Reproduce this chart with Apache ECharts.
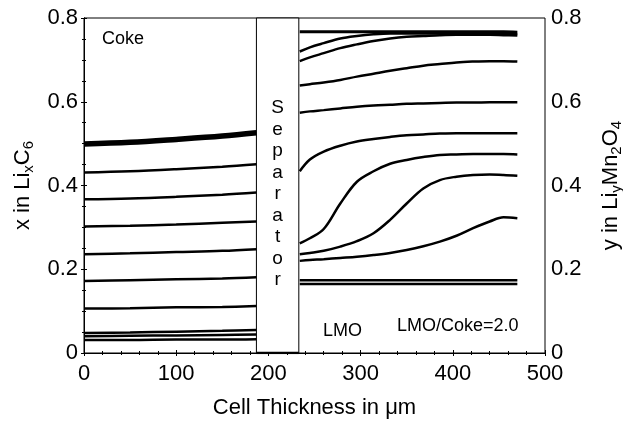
<!DOCTYPE html>
<html>
<head>
<meta charset="utf-8">
<script src="https://cdn.jsdelivr.net/npm/echarts@6/dist/echarts.min.js"></script>
<style>
  html, body { margin: 0; padding: 0; background: #fff; }
  #chart { width: 623px; height: 426px; }
</style>
</head>
<body>
<div id="chart"></div>
<script>
// coke electrode profiles (x in LixC6), sampled along thickness
const cokeX = [0, 50, 100, 150, 187]
const cokeLines = [
  [0.499, 0.503, 0.510, 0.518, 0.526],
  [0.431, 0.434, 0.439, 0.445, 0.451],
  [0.367, 0.369, 0.373, 0.378, 0.383],
  [0.302, 0.304, 0.307, 0.311, 0.314],
  [0.236, 0.238, 0.241, 0.244, 0.248],
  [0.172, 0.174, 0.176, 0.178, 0.181],
  [0.106, 0.107, 0.109, 0.110, 0.112],
  [0.048, 0.049, 0.051, 0.053, 0.055],
  [0.040, 0.041, 0.042, 0.043, 0.044],
  [0.031, 0.031, 0.032, 0.032, 0.033]
]

// LMO electrode profiles (y in LiyMn2O4)
const lmoX = [234, 245, 260, 278, 296, 314, 332, 350, 368, 386, 404, 422, 440, 455, 470]
const lmoLines = [
  [0.767, 0.767, 0.767, 0.767, 0.767, 0.767, 0.767, 0.767, 0.767, 0.767, 0.767, 0.767, 0.767, 0.767, 0.766],
  [0.720, 0.730, 0.740, 0.751, 0.757, 0.761, 0.763, 0.763, 0.763, 0.763, 0.763, 0.763, 0.763, 0.762, 0.762],
  [0.697, 0.706, 0.716, 0.728, 0.737, 0.745, 0.751, 0.755, 0.757, 0.759, 0.760, 0.760, 0.760, 0.759, 0.758],
  [0.639, 0.642, 0.646, 0.652, 0.660, 0.667, 0.674, 0.680, 0.686, 0.690, 0.694, 0.696, 0.697, 0.697, 0.696],
  [0.574, 0.577, 0.580, 0.584, 0.588, 0.591, 0.593, 0.595, 0.596, 0.597, 0.598, 0.598, 0.599, 0.599, 0.599],
  [0.434, 0.462, 0.481, 0.495, 0.505, 0.511, 0.516, 0.520, 0.522, 0.524, 0.525, 0.525, 0.525, 0.525, 0.525],
  [0.262, 0.274, 0.296, 0.357, 0.409, 0.434, 0.452, 0.461, 0.468, 0.473, 0.474, 0.475, 0.475, 0.475, 0.474],
  [0.236, 0.239, 0.244, 0.254, 0.267, 0.286, 0.318, 0.357, 0.393, 0.413, 0.421, 0.425, 0.426, 0.425, 0.423],
  [0.220, 0.222, 0.224, 0.227, 0.230, 0.234, 0.239, 0.246, 0.255, 0.266, 0.280, 0.298, 0.314, 0.324, 0.322],
  [0.174, 0.174, 0.174, 0.174, 0.174, 0.174, 0.174, 0.174, 0.174, 0.174, 0.174, 0.174, 0.174, 0.174, 0.174],
  [0.165, 0.165, 0.165, 0.165, 0.165, 0.165, 0.165, 0.165, 0.165, 0.165, 0.165, 0.165, 0.165, 0.165, 0.165]
]

const separator = [187, 233]
const font = '"Liberation Sans", Arial, Helvetica, sans-serif'

const chart = echarts.init(document.getElementById('chart'))

function lineSeries(xs, ys, width) {
  return {
    type: 'line',
    data: xs.map((x, i) => [x, ys[i]]),
    showSymbol: false,
    smooth: 0.35,
    silent: true,
    lineStyle: { color: '#000', width: width },
    z: 3
  }
}

const series = []
cokeLines.forEach((ys, i) => series.push(lineSeries(cokeX, ys, i === 0 ? 5.5 : 2.5)))
lmoLines.forEach((ys, i) => series.push(lineSeries(lmoX, ys, i === 0 ? 3 : 2.5)))

// separator box + its bottom edge
series.push({
  type: 'line',
  data: [[separator[0], 0], [separator[1], 0]],
  showSymbol: false,
  lineStyle: { color: '#000', width: 2.5 },
  z: 4,
  markArea: {
    silent: true,
    itemStyle: { color: '#fff', borderColor: '#000', borderWidth: 1 },
    label: {
      show: true,
      position: 'insideTop',
      distance: 80,
      formatter: 'S\ne\np\na\nr\na\nt\no\nr',
      color: '#000',
      fontFamily: font,
      fontSize: 19,
      lineHeight: 21.5
    },
    data: [[{ coord: [separator[0], 0] }, { coord: [separator[1], 0.8] }]]
  }
})

const tickStyle = { show: true, inside: true, length: 3, lineStyle: { color: '#000' } }
const minorStyle = { show: true, length: 2, lineStyle: { color: '#000' } }
const subRich = {
  n: { fontSize: 22, fontFamily: font, color: '#000' },
  s: { fontSize: 15, fontFamily: font, color: '#000', padding: [12, 0, 0, 0] }
}

chart.setOption({
  animation: false,
  grid: {
    left: 84, right: 78, top: 18, bottom: 73,
    outerBoundsMode: 'none',
    show: true, borderColor: '#000', borderWidth: 1
  },
  xAxis: [{
    type: 'value', min: 0, max: 500, interval: 100,
    name: 'Cell Thickness in \u03bcm', nameLocation: 'middle', nameGap: 44,
    nameTextStyle: { color: '#000', fontFamily: font, fontSize: 22 },
    axisLine: { show: true, lineStyle: { color: '#000' } },
    axisTick: tickStyle,
    minorTick: { ...minorStyle, splitNumber: 5 },
    axisLabel: { color: '#000', fontFamily: font, fontSize: 22, margin: 10 },
    splitLine: { show: false }
  }, {
    type: 'value', min: 0, max: 500, interval: 100, position: 'top',
    axisLine: { show: true, lineStyle: { color: '#000' } },
    axisTick: tickStyle,
    minorTick: { ...minorStyle, splitNumber: 5 },
    axisLabel: { show: false },
    splitLine: { show: false }
  }],
  yAxis: [{
    type: 'value', min: 0, max: 0.8, interval: 0.2,
    name: '{n|x in Li}{s|x}{n|C}{s|6}', nameLocation: 'middle', nameRotate: 90, nameGap: 48,
    nameTextStyle: { color: '#000', fontFamily: font, rich: subRich },
    axisLine: { show: true, lineStyle: { color: '#000' } },
    axisTick: tickStyle,
    minorTick: { ...minorStyle, splitNumber: 4 },
    axisLabel: { color: '#000', fontFamily: font, fontSize: 22, margin: 6, formatter: v => String(+v.toFixed(1)) },
    splitLine: { show: false }
  }, {
    type: 'value', min: 0, max: 0.8, interval: 0.2, position: 'right',
    name: '{n|y in Li}{s|y}{n|Mn}{s|2}{n|O}{s|4}', nameLocation: 'middle', nameRotate: 90, nameGap: 52,
    nameTextStyle: { color: '#000', fontFamily: font, rich: subRich },
    axisLine: { show: true, lineStyle: { color: '#000' } },
    axisTick: tickStyle,
    minorTick: { ...minorStyle, splitNumber: 4 },
    axisLabel: { color: '#000', fontFamily: font, fontSize: 22, margin: 6, formatter: v => String(+v.toFixed(1)) },
    splitLine: { show: false }
  }],
  graphic: [
    { type: 'text', left: 102, top: 30, style: { text: 'Coke', fill: '#000', font: '18px ' + font } },
    { type: 'text', left: 323, top: 322, style: { text: 'LMO', fill: '#000', font: '18px ' + font } },
    { type: 'text', left: 397, top: 317, style: { text: 'LMO/Coke=2.0', fill: '#000', font: '18px ' + font } }
  ],
  series: series
})
</script>
</body>
</html>
